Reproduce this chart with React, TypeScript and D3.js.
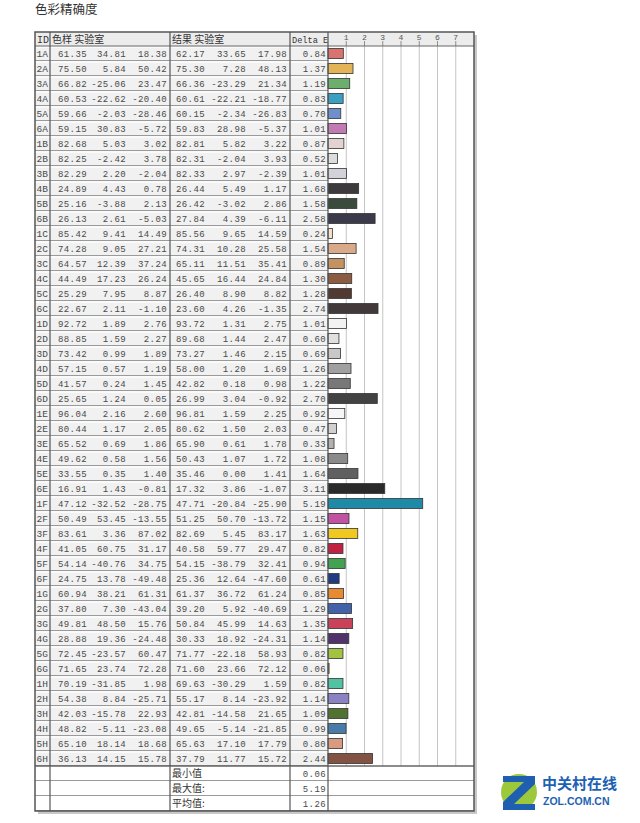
import React from 'react';
import * as d3 from 'd3';

const ids = ['1A','2A','3A','4A','5A','6A','1B','2B','3B','4B','5B','6B','1C','2C','3C','4C','5C','6C','1D','2D','3D','4D','5D','6D','1E','2E','3E','4E','5E','6E','1F','2F','3F','4F','5F','6F','1G','2G','3G','4G','5G','6G','1H','2H','3H','4H','5H','6H'];

const refL = [61.35,75.50,66.82,60.53,59.66,59.15,82.68,82.25,82.29,24.89,25.16,26.13,85.42,74.28,64.57,44.49,25.29,22.67,92.72,88.85,73.42,57.15,41.57,25.65,96.04,80.44,65.52,49.62,33.55,16.91,47.12,50.49,83.61,41.05,54.14,24.75,60.94,37.80,49.81,28.88,72.45,71.65,70.19,54.38,42.03,48.82,65.10,36.13];
const refA = [34.81,5.84,-25.06,-22.62,-2.03,30.83,5.03,-2.42,2.20,4.43,-3.88,2.61,9.41,9.05,12.39,17.23,7.95,2.11,1.89,1.59,0.99,0.57,0.24,1.24,2.16,1.17,0.69,0.58,0.35,1.43,-32.52,53.45,3.36,60.75,-40.76,13.78,38.21,7.30,48.50,19.36,-23.57,23.74,-31.85,8.84,-15.78,-5.11,18.14,14.15];
const refB = [18.38,50.42,23.47,-20.40,-28.46,-5.72,3.02,3.78,-2.04,0.78,2.13,-5.03,14.49,27.21,37.24,26.24,8.87,-1.10,2.76,2.27,1.89,1.19,1.45,0.05,2.60,2.05,1.86,1.56,1.40,-0.81,-28.75,-13.55,87.02,31.17,34.75,-49.48,61.31,-43.04,15.76,-24.48,60.47,72.28,1.98,-25.71,22.93,-23.08,18.68,15.78];
const resL = [62.17,75.30,66.36,60.61,60.15,59.83,82.81,82.31,82.33,26.44,26.42,27.84,85.56,74.31,65.11,45.65,26.40,23.60,93.72,89.68,73.27,58.00,42.82,26.99,96.81,80.62,65.90,50.43,35.46,17.32,47.71,51.25,82.69,40.58,54.15,25.36,61.37,39.20,50.84,30.33,71.77,71.60,69.63,55.17,42.81,49.65,65.63,37.79];
const resA = [33.65,7.28,-23.29,-22.21,-2.34,28.98,5.82,-2.04,2.97,5.49,-3.02,4.39,9.65,10.28,11.51,16.44,8.90,4.26,1.31,1.44,1.46,1.20,0.18,3.04,1.59,1.50,0.61,1.07,0.00,3.86,-20.84,50.70,5.45,59.77,-38.79,12.64,36.72,5.92,45.99,18.92,-22.18,23.66,-30.29,8.14,-14.58,-5.14,17.10,11.77];
const resB = [17.98,48.13,21.34,-18.77,-26.83,-5.37,3.22,3.93,-2.39,1.17,2.86,-6.11,14.59,25.58,35.41,24.84,8.82,-1.35,2.75,2.47,2.15,1.69,0.98,-0.92,2.25,2.03,1.78,1.72,1.41,-1.07,-25.90,-13.72,83.17,29.47,32.41,-47.60,61.24,-40.69,14.63,-24.31,58.93,72.12,1.59,-23.92,21.65,-21.85,17.79,15.72];
const deltaE = [0.84,1.37,1.19,0.83,0.70,1.01,0.87,0.52,1.01,1.68,1.58,2.58,0.24,1.54,0.89,1.30,1.28,2.74,1.01,0.60,0.69,1.26,1.22,2.70,0.92,0.47,0.33,1.08,1.64,3.11,5.19,1.15,1.63,0.82,0.94,0.61,0.85,1.29,1.35,1.14,0.82,0.06,0.82,1.14,1.09,0.99,0.80,2.44];
const barColors = ['#d9736f','#e2b455','#6cae6c','#3aa0c2','#6f8fcb','#c27ab2','#e2d2d2','#dcdcdc','#d2d2da','#3c3a3c','#3a4a3c','#3a3a4a','#f4e2cc','#d8aa8a','#c29262','#8c5c42','#523a32','#423a3a','#f2f2f2','#e0e0e0','#c8c8c8','#a0a0a0','#787878','#424242','#f6f6f6','#d0d0d0','#b2b2b2','#8a8a8a','#606060','#2a2a2a','#1f8aa8','#c252a2','#f0c822','#c22242','#42a252','#223a82','#e88a32','#4262aa','#ca425a','#52326a','#a2c242','#e2a222','#52c2a2','#8a82c2','#527232','#4a7aaa','#da9a82','#825242'];
const axisTicks = [1, 2, 3, 4, 5, 6, 7];
const summaryLabels = ['最小值', '最大值:', '平均值:'];
const summaryValues = [0.06, 5.19, 1.26];

const mono = '"Liberation Mono", "DejaVu Sans Mono", monospace';
const cjk = '"Noto Sans CJK SC", "Noto Sans", sans-serif';

const App: React.FC = () => {
  const width = 640;
  const height = 823;
  const left = 35;
  const top = 32;
  const headerH = 14;
  const rowH = 15;
  const cols = { id: 35, ref: 50, res: 170, de: 290, chart: 328, end: 474 };

  const y = d3
    .scaleBand<string>()
    .domain(ids)
    .range([top + headerH, top + headerH + ids.length * rowH])
    .padding(0);
  const dataBottom = top + headerH + ids.length * rowH;
  const tableBottom = dataBottom + summaryLabels.length * rowH;

  const x = d3.scaleLinear().domain([0, 8]).range([cols.chart, cols.end]);

  const textColor = '#4a4a4a';
  const num = { fontFamily: mono, fontSize: 9, letterSpacing: 0.4, fill: textColor };

  return (
    <svg width={width} height={height} style={{ position: 'absolute', left: 0, top: 0, background: '#fff' }}>
      <text x={35} y={14} fontFamily={cjk} fontSize={12.5} fill="#333">色彩精确度</text>

      {/* shadow */}
      <rect x={left + 3} y={top + 3} width={cols.end - left} height={tableBottom - top} fill="#c8c8c8" />
      <rect x={left} y={top} width={cols.end - left} height={tableBottom - top} fill="#fff" />

      {/* header */}
      <rect x={left} y={top} width={cols.end - left} height={headerH} fill="#ececec" />
      <text x={cols.id + 2} y={top + 10.5} fontFamily={mono} fontSize={10} fill="#333">ID</text>
      <text x={cols.ref + 2} y={top + 11} fontFamily={cjk} fontSize={10} fill="#333">色样 实验室</text>
      <text x={cols.res + 2} y={top + 11} fontFamily={cjk} fontSize={10} fill="#333">结果 实验室</text>
      <text x={cols.de + 2} y={top + 10.5} fontFamily={mono} fontSize={8.6} fill="#333">Delta E</text>

      {/* rows */}
      {ids.map((id, i) => {
        const ry = y(id)!;
        const ty = ry + 10.5;
        return (
          <g key={id}>
            <rect x={left} y={ry} width={cols.chart - left} height={rowH} fill="#f1f1f1" />
            <rect x={left} y={ry} width={cols.chart - left} height={2} fill="#fafafa" />
            <line x1={left} x2={cols.chart} y1={ry + rowH - 0.5} y2={ry + rowH - 0.5} stroke="#9a9a9a" strokeWidth={1.2} />
            <text x={cols.id + 1.5} y={ty} fontFamily={mono} fontSize={9.5} fill={textColor}>{id}</text>
            <text x={cols.ref + 8} y={ty} {...num}>{refL[i].toFixed(2)}</text>
            <text x={cols.ref + 76} y={ty} textAnchor="end" {...num}>{refA[i].toFixed(2)}</text>
            <text x={cols.ref + 117} y={ty} textAnchor="end" {...num}>{refB[i].toFixed(2)}</text>
            <text x={cols.res + 6} y={ty} {...num}>{resL[i].toFixed(2)}</text>
            <text x={cols.res + 76} y={ty} textAnchor="end" {...num}>{resA[i].toFixed(2)}</text>
            <text x={cols.res + 117} y={ty} textAnchor="end" {...num}>{resB[i].toFixed(2)}</text>
            <text x={cols.chart - 2} y={ty} textAnchor="end" {...num}>{deltaE[i].toFixed(2)}</text>
          </g>
        );
      })}

      {/* gridlines */}
      {axisTicks.map((t) => (
        <g key={t}>
          <line x1={x(t)} x2={x(t)} y1={top + headerH} y2={dataBottom} stroke="#c4c4c4" strokeWidth={1} />
          <line x1={x(t)} x2={x(t)} y1={top + 9} y2={top + headerH} stroke="#777" strokeWidth={0.8} />
          <text x={x(t)} y={top + 8} textAnchor="middle" fontFamily={mono} fontSize={8} fill="#555">{t}</text>
        </g>
      ))}

      {/* bars */}
      {ids.map((id, i) => (
        <rect
          key={id}
          x={x(0)}
          y={y(id)! + 2.5}
          width={Math.max(0, x(deltaE[i]) - x(0))}
          height={rowH - 5}
          fill={barColors[i]}
          stroke="#333"
          strokeWidth={0.8}
        />
      ))}

      {/* summary rows */}
      {summaryLabels.map((label, i) => {
        const ry = dataBottom + i * rowH;
        return (
          <g key={label}>
            <line x1={left} x2={cols.end} y1={ry + rowH - 0.5} y2={ry + rowH - 0.5} stroke="#9a9a9a" strokeWidth={1} />
            <text x={cols.res + 2} y={ry + 11} fontFamily={cjk} fontSize={10} fill="#333">{label}</text>
            <text x={cols.chart - 2} y={ry + 10.5} textAnchor="end" {...num}>{summaryValues[i].toFixed(2)}</text>
          </g>
        );
      })}

      {/* grid frame lines */}
      <line x1={left} x2={cols.end} y1={top + headerH} y2={top + headerH} stroke="#666" strokeWidth={1.2} />
      <line x1={left} x2={cols.end} y1={dataBottom} y2={dataBottom} stroke="#666" strokeWidth={1.5} />
      {[cols.ref, cols.res, cols.de, cols.chart].map((cx) => (
        <line key={cx} x1={cx} x2={cx} y1={top} y2={tableBottom} stroke="#555" strokeWidth={1.2} />
      ))}
      <rect x={left} y={top} width={cols.end - left} height={tableBottom - top} fill="none" stroke="#555" strokeWidth={1.5} />

      {/* logo */}
      <g>
        <circle cx={519} cy={792} r={18} fill="#9cc83c" />
        <path d="M503,776 L535,776 L535,784 L514,804 L535,804 L535,810 L503,810 L503,802 L524,782 L503,782 Z" fill="#1f5fb0" />
        <text x={542} y={789} fontFamily={cjk} fontSize={15} fontWeight="bold" fill="#1d62b2">中关村在线</text>
        <text x={543} y={805} fontFamily='"Liberation Sans", Arial, sans-serif' fontSize={10.5} fontWeight="bold" fill="#1d62b2">ZOL.COM.CN</text>
      </g>
    </svg>
  );
};

export default App;
